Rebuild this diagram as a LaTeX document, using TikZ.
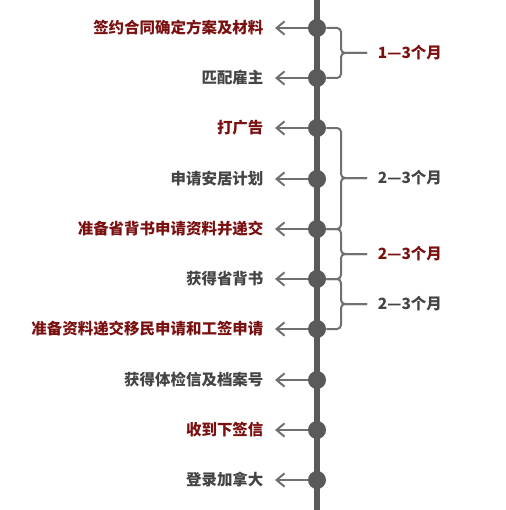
\documentclass[tikz,border=0pt]{standalone}
\usepackage{fontspec}
\newfontfamily\cjk{Noto Sans CJK SC}
\usepackage{xcolor}
\usepackage{tikz}
\usetikzlibrary{arrows.meta, positioning}

\definecolor{darkred}{RGB}{122,16,16}
\definecolor{textgrey}{RGB}{68,68,68}
\definecolor{axisgrey}{RGB}{90,90,90}
\definecolor{bracegrey}{RGB}{112,112,112}

\tikzset{
  axis/.style={line width=4.5pt, axisgrey},
  dot/.style={circle, fill=axisgrey, inner sep=0pt, minimum size=13.5pt},
  arr/.style={line width=2.2pt, bracegrey, -{Straight Barb[length=6pt, width=10pt, line width=1.5pt]}},
  brc/.style={line width=1.5pt, bracegrey, rounded corners=3pt},
  lbl/.style={inner sep=0pt, font=\cjk\bfseries\fontsize{11.6pt}{13pt}\selectfont},
  red/.style={lbl, text=darkred},
  grey/.style={lbl, text=textgrey}
}

\begin{document}
\begin{tikzpicture}[x=0.75pt, y=-0.75pt]
  \useasboundingbox (0,0) rectangle (506,510);

  % time axis
  \coordinate (top) at (317,0);
  \coordinate (bot) at (317,510);
  \draw[axis] (top) -- (bot);

  % steps
  \node[dot] (d1) at (317,28) {};
  \node[dot] (d2) at (317,78) {};
  \node[dot] (d3) at (317,128) {};
  \node[dot] (d4) at (317,179) {};
  \node[dot] (d5) at (317,229) {};
  \node[dot] (d6) at (317,279) {};
  \node[dot] (d7) at (317,329) {};
  \node[dot] (d8) at (317,380) {};
  \node[dot] (d9) at (317,430) {};
  \node[dot] (d10) at (317,480) {};

  \coordinate (t1) at (275,28);
  \coordinate (t2) at (275,78);
  \coordinate (t3) at (275,128);
  \coordinate (t4) at (275,179);
  \coordinate (t5) at (275,229);
  \coordinate (t6) at (275,279);
  \coordinate (t7) at (275,329);
  \coordinate (t8) at (275,380);
  \coordinate (t9) at (275,430);
  \coordinate (t10) at (275,480);

  \node[red, left=8.5pt of t1] (l1) {签约合同确定方案及材料};
  \node[grey, left=8.5pt of t2] (l2) {匹配雇主};
  \node[red, left=8.5pt of t3] (l3) {打广告};
  \node[grey, left=8.5pt of t4] (l4) {申请安居计划};
  \node[red, left=8.5pt of t5] (l5) {准备省背书申请资料并递交};
  \node[grey, left=8.5pt of t6] (l6) {获得省背书};
  \node[red, left=8.5pt of t7] (l7) {准备资料递交移民申请和工签申请};
  \node[grey, left=8.5pt of t8] (l8) {获得体检信及档案号};
  \node[red, left=8.5pt of t9] (l9) {收到下签信};
  \node[grey, left=8.5pt of t10] (l10) {登录加拿大};

  \draw[arr] (d1) -- (t1);
  \draw[arr] (d2) -- (t2);
  \draw[arr] (d3) -- (t3);
  \draw[arr] (d4) -- (t4);
  \draw[arr] (d5) -- (t5);
  \draw[arr] (d6) -- (t6);
  \draw[arr] (d7) -- (t7);
  \draw[arr] (d8) -- (t8);
  \draw[arr] (d9) -- (t9);
  \draw[arr] (d10) -- (t10);

  % durations
  \coordinate (b1) at (367,53);
  \coordinate (b2) at (367,178);
  \coordinate (b3) at (367,254);
  \coordinate (b4) at (367,304);

  \draw[brc] (d1) -- (341,28) -- (341,53) -- (b1);
  \draw[brc] (d2) -- (341,78) -- (341,53) -- (b1);
  \draw[brc] (d3) -- (341,128) -- (341,178) -- (b2);
  \draw[brc] (d5) -- (341,229) -- (341,178) -- (b2);
  \draw[brc] (d5) -- (341,229) -- (341,254) -- (b3);
  \draw[brc] (d6) -- (341,279) -- (341,254) -- (b3);
  \draw[brc] (d6) -- (341,279) -- (341,304) -- (b4);
  \draw[brc] (d7) -- (341,329) -- (341,304) -- (b4);

  \node[red, right=8pt of b1] (m1) {1—3个月};
  \node[grey, right=8pt of b2] (m2) {2—3个月};
  \node[red, right=8pt of b3] (m3) {2—3个月};
  \node[grey, right=8pt of b4] (m4) {2—3个月};
\end{tikzpicture}
\end{document}
